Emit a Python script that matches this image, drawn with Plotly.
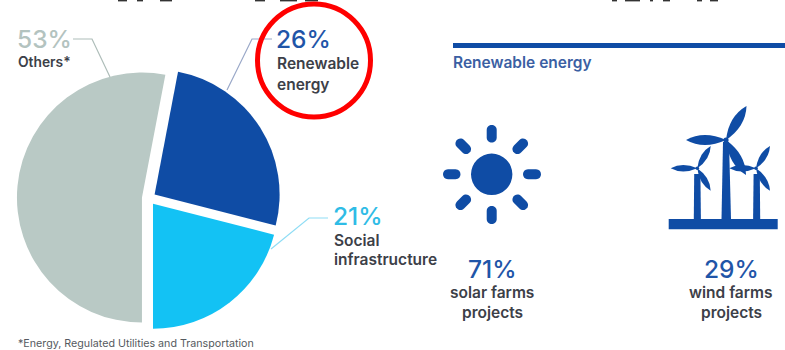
import plotly.graph_objects as go

# Portfolio breakdown
sectors = ["Others*", "Renewable energy", "Social infrastructure"]
sector_shares = [53, 26, 21]
sector_colors = ["#B9C9C5", "#0F4CA5", "#13C2F4"]

# Renewable energy split
project_types = ["solar farms", "wind farms"]
project_shares = [71, 29]

footnote = "*Energy, Regulated Utilities and Transportation"
panel_title = "Renewable energy"

# Lower edge of the headline strip that runs off the top of the page
headline_marks = [(118, 127), (137, 143), (160, 172), (255, 265), (280, 297), (305, 318),
                  (612, 617), (625, 640), (650, 653), (663, 670), (697, 702), (710, 718)]

W, H = 785, 350
BLUE = "#0F4CA5"
INK = "#3C4048"
FONT = "Inter, Roboto, sans-serif"

# Pie box in pixels: centre (148.8, 198.2), radius 125 with a 5.5% pull
cx, cy, rad, pull = 148.8, 198.2, 125.0, 0.055
half = rad * (1 + pull)

fig = go.Figure(
    go.Pie(
        labels=sectors,
        values=sector_shares,
        sort=False,
        direction="clockwise",
        rotation=180,
        pull=pull,
        marker=dict(colors=sector_colors, line=dict(width=0)),
        textinfo="none",
        hoverinfo="label+percent",
        showlegend=False,
        domain=dict(
            x=[(cx - half) / W, (cx + half) / W],
            y=[1 - (cy + half) / H, 1 - (cy - half) / H],
        ),
    )
)

shapes = []


def poly(points, fill=None, color=None, width=0, close=True):
    path = "M" + " L".join(f"{x:.2f},{y:.2f}" for x, y in points) + (" Z" if close else "")
    shapes.append(
        dict(
            type="path",
            path=path,
            xref="x",
            yref="y",
            fillcolor=fill if fill else "rgba(0,0,0,0)",
            line=dict(color=color if color else "rgba(0,0,0,0)", width=width),
            layer="above",
        )
    )


def capsule(x0, y0, x1, y1, w):
    # Rounded bar between the centres of its two end caps
    dx, dy = x1 - x0, y1 - y0
    n = (dx * dx + dy * dy) ** 0.5
    ux, uy = dx / n, dy / n
    nx, ny = -uy * w / 2, ux * w / 2
    k = 4 / 3 * w / 2
    p = (
        f"M{x0 + nx:.2f},{y0 + ny:.2f} L{x1 + nx:.2f},{y1 + ny:.2f} "
        f"C{x1 + nx + ux * k:.2f},{y1 + ny + uy * k:.2f} {x1 - nx + ux * k:.2f},{y1 - ny + uy * k:.2f} {x1 - nx:.2f},{y1 - ny:.2f} "
        f"L{x0 - nx:.2f},{y0 - ny:.2f} "
        f"C{x0 - nx - ux * k:.2f},{y0 - ny - uy * k:.2f} {x0 + nx - ux * k:.2f},{y0 + ny - uy * k:.2f} {x0 + nx:.2f},{y0 + ny:.2f} Z"
    )
    shapes.append(dict(type="path", path=p, xref="x", yref="y", fillcolor=BLUE, line=dict(width=0), layer="above"))


def blade(x0, y0, x1, y1, w):
    # Lens-shaped rotor blade from the hub out to its tip
    dx, dy = x1 - x0, y1 - y0
    n = (dx * dx + dy * dy) ** 0.5
    nx, ny = -dy / n * w, dx / n * w
    mx, my = x0 + dx * 0.55, y0 + dy * 0.55
    p = (
        f"M{x0:.2f},{y0:.2f} Q{mx + nx:.2f},{my + ny:.2f} {x1:.2f},{y1:.2f} "
        f"Q{mx - nx:.2f},{my - ny:.2f} {x0:.2f},{y0:.2f} Z"
    )
    shapes.append(dict(type="path", path=p, xref="x", yref="y", fillcolor=BLUE, line=dict(width=0), layer="above"))


def disc(x, y, r, fill):
    shapes.append(
        dict(type="circle", xref="x", yref="y", x0=x - r, x1=x + r, y0=y - r, y1=y + r,
             fillcolor=fill, line=dict(width=0), layer="above")
    )


# Headline remnants along the top edge
for x0, x1 in headline_marks:
    poly([(x0, 0), (x1, 0), (x1, 1.4), (x0, 1.4)], fill="#333333")

# Leader lines
poly([(73, 39), (92, 39), (110, 77)], color="#AEBDB9", width=1.2, close=False)
poly([(272, 39), (252, 39), (227, 90)], color="#9AA8C8", width=1.2, close=False)
poly([(328, 218), (309, 218), (271, 249)], color="#8FDDF5", width=1.2, close=False)

# Panel rule
poly([(453, 43), (785, 43), (785, 48), (453, 48)], fill=BLUE)

# Sun icon
disc(491.7, 174.3, 20.7, BLUE)
capsule(491.7, 130, 491.7, 137.5, 10)
capsule(491.7, 211, 491.7, 219, 10)
capsule(448, 174.3, 455.5, 174.3, 10)
capsule(528, 174.3, 536, 174.3, 10)
capsule(460.5, 143.5, 466, 149, 10)
capsule(517.5, 149, 523, 143.5, 10)
capsule(460.5, 205, 466, 199.5, 10)
capsule(517.5, 199.5, 523, 205, 10)

# Wind farm icon
poly([(668.7, 219), (777.7, 219), (777.7, 229.3), (668.7, 229.3)], fill=BLUE)
poly([(723, 142), (729, 142), (731, 219), (721.5, 219)], fill=BLUE)
poly([(694.2, 174), (700.4, 174), (700.9, 219), (693.8, 219)], fill=BLUE)
poly([(753.6, 174), (759.8, 174), (760.2, 219), (753.1, 219)], fill=BLUE)
for hub, tips, w in [
    ((726, 140), [(746.5, 106), (686, 140), (746, 175)], 10),
    ((697.3, 168.3), [(710.7, 146), (670.7, 168.3), (710.7, 190.7)], 6.5),
    ((756, 168.3), [(770, 146), (729.3, 168.3), (770, 190.7)], 6.5),
]:
    disc(hub[0], hub[1], 2.6 if w > 8 else 1.8, BLUE)
    for tx, ty in tips:
        blade(hub[0], hub[1], tx, ty, w)

# Highlight ring
shapes.append(
    dict(type="circle", xref="x", yref="y", x0=257.5, x1=370.5, y0=4, y1=117,
         fillcolor="rgba(0,0,0,0)", line=dict(color="#FF0000", width=5), layer="above")
)

annotations = []


def label(text, x, y, size, color, anchor="left", weight=600):
    annotations.append(
        dict(text=text, x=x, y=y, xref="x", yref="y", xanchor=anchor, yanchor="middle",
             showarrow=False, align=anchor, borderpad=0,
             font=dict(family=FONT, size=size, color=color, weight=weight))
    )


label(f"{sector_shares[0]}%", 16, 39, 24.5, "#B3C3BF", weight=500)
label("Others*", 17, 62, 13.8, INK)
label(f"{sector_shares[1]}%", 275, 38.5, 24.5, "#1F55A8", weight=500)
label("Renewable", 276, 63, 15.5, INK)
label("energy", 276, 84, 15.5, INK)
label(f"{sector_shares[2]}%", 332, 215.5, 24.5, "#2FBCE6", weight=500)
label("Social", 333, 240, 15.5, INK)
label("infrastructure", 333, 259, 15.5, INK)
label(footnote, 17, 343.4, 10.7, "#555A60", weight=400)
label(panel_title, 452, 62, 15.5, "#3B5FA3")

for share, kind, x in zip(project_shares, project_types, [492, 731]):
    label(f"{share}%", x, 269, 24.5, "#1F55A8", anchor="center", weight=500)
    label(kind, x, 292, 15.5, INK, anchor="center")
    label("projects", x, 312, 15.5, INK, anchor="center")

fig.update_layout(
    width=W,
    height=H,
    margin=dict(l=0, r=0, t=0, b=0),
    paper_bgcolor="white",
    plot_bgcolor="rgba(0,0,0,0)",
    xaxis=dict(range=[0, W], visible=False, fixedrange=True),
    yaxis=dict(range=[H, 0], visible=False, fixedrange=True),
    shapes=shapes,
    annotations=annotations,
    showlegend=False,
)

fig.write_html("out.html", config=dict(displayModeBar=False))
